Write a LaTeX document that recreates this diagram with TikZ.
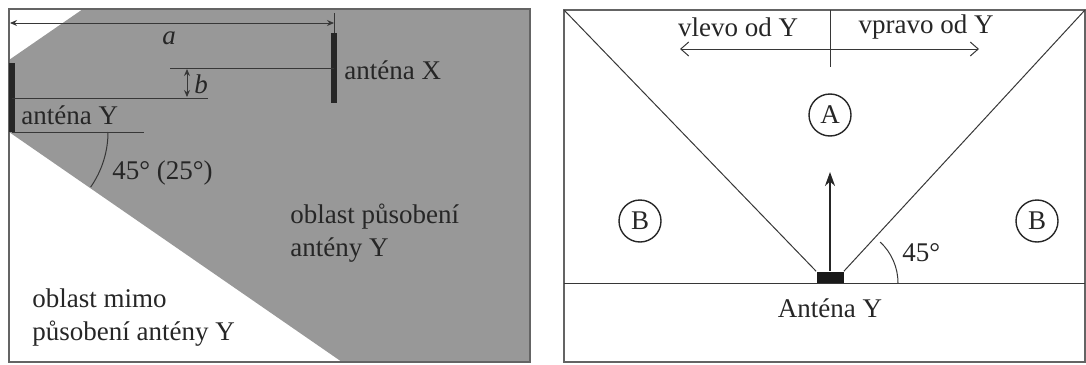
\documentclass[tikz,border=0pt]{standalone}
\usepackage{fontspec}
\setmainfont{Liberation Serif}
\usetikzlibrary{arrows.meta, positioning, calc}
\definecolor{zonegray}{RGB}{152,152,152}
\definecolor{framegray}{RGB}{100,100,100}
\definecolor{linegray}{RGB}{55,55,55}

\begin{document}
\begin{tikzpicture}[
    x=0.5pt, y=-0.5pt,
    font=\fontsize{13.5}{16.5}\selectfont,
    txt/.style     = {inner sep=0pt, align=left, text=black!85},
    frame/.style   = {draw=framegray, line width=0.8pt},
    thin/.style    = {draw=linegray, line width=0.5pt},
    antbar/.style  = {line width=2.8pt, draw=black!85},
    dimarrow/.style = {thin, {Stealth[length=3.5pt,width=3pt]}-{Stealth[length=3.5pt,width=3pt]}},
    wayarrow/.style = {thin, {Straight Barb[length=4pt,width=7pt]}-{Straight Barb[length=4pt,width=7pt]}},
    zone/.style    = {draw=black!85, circle, minimum size=21pt, inner sep=0pt,
                      line width=0.7pt, text=black!85}
  ]
  \useasboundingbox (0,0) rectangle (1086,364);

  % left panel
  \fill[zonegray] (9,60) -- (83,9) -- (530,9) -- (530,362) -- (342,362)
                  -- (9,132) -- cycle;
  \draw[frame] (9,9) rectangle (530,362);

  \coordinate (ytop) at (12,63);
  \coordinate (ybot) at (12,132);
  \coordinate (xtop) at (334,33);
  \coordinate (xbot) at (334,103);
  \draw[antbar] (ytop) -- (ybot);
  \draw[antbar] (xtop) -- (xbot);

  \coordinate (aleft)  at (10,23);
  \coordinate (aright) at (334,23);
  \draw[dimarrow] (aleft) -- (aright);
  \draw[thin] (334,13) -- (xtop);
  \node[txt, font=\fontsize{13.5}{16.5}\selectfont\itshape] (lbla) at (169,38) {a};

  \coordinate (xline) at (170,68);
  \coordinate (yline) at (12,98);
  \draw[thin] (xline) -- (334,68);
  \draw[thin] (yline) -- (208,98);
  \draw[dimarrow] (187,69) -- (187,97);
  \node[txt, font=\fontsize{13.5}{16.5}\selectfont\itshape] (lblb) at (201,84) {b};
  \node[txt, anchor=west] (lblx) at (344,70) {anténa X};
  \node[txt, anchor=west] (lbly) at (21,115) {anténa Y};

  \draw[thin] (ybot) -- (144,132);
  \draw[thin] (108,132) arc[start angle=0, end angle=35, radius=96];
  \node[txt, anchor=west] (angleY) at (112,173) {45° (25°)};

  \node[txt, anchor=west] (inzone)  at (290,233) {oblast působení\\antény Y};
  \node[txt, anchor=west] (outzone) at (32,318)  {oblast mimo\\působení antény Y};

  % right panel
  \draw[frame] (564,10) rectangle (1085,362);
  \coordinate (base) at (830,283);
  \draw[thin] (564,283) -- (1085,283);
  \node[fill=black!90, minimum width=13.5pt, minimum height=5.5pt, inner sep=0pt,
        anchor=south] (antY) at (base) {};
  \draw[thin] (antY.north west) -- (564,10);
  \draw[thin] (antY.north east) -- (1085,10);
  \draw[line width=1.1pt, draw=black!85, -{Stealth[length=7pt,width=5pt]}]
       (antY.north) -- (830,172);
  \draw[thin] (898,283) arc[start angle=0, end angle=-47, radius=56];
  \node[txt, anchor=west] (angleR) at (902,253) {45°};

  \draw[thin] (830,10) -- (830,67);
  \coordinate (wleft)  at (680,49);
  \coordinate (wright) at (979,49);
  \draw[wayarrow] (wleft) -- (wright);
  \node[txt] (vlevo)  at (738,27) {vlevo od Y};
  \node[txt] (vpravo) at (926,27) {vpravo od Y};

  \node[zone] (zoneA)  at (830,115)  {A};
  \node[zone] (zoneBl) at (640,221)  {B};
  \node[zone] (zoneBr) at (1037,221) {B};
  \node[txt] (lblant) at (830,308) {Anténa Y};
\end{tikzpicture}
\end{document}
